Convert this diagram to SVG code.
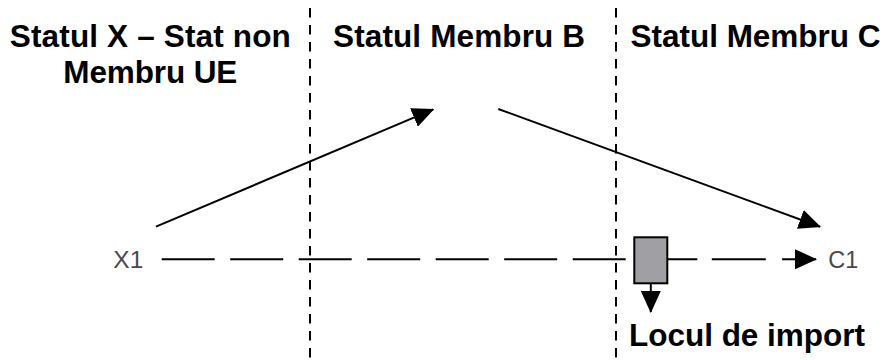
<svg xmlns="http://www.w3.org/2000/svg" width="884" height="360" viewBox="0 0 884 360">
  <style>
    .hdr { font-family: "Liberation Sans", Arial, sans-serif; font-weight: bold; font-size: 31.5px; fill: #000; }
    .lbl { font-family: "Liberation Sans", Arial, sans-serif; font-size: 24px; fill: #4a4a4a; }
    .sep { stroke: #000; stroke-width: 2; stroke-dasharray: 9.5 7.5; fill: none; }
    .flow { stroke: #000; stroke-width: 2; fill: none; }
  </style>
  <defs>
    <marker id="ah" markerUnits="userSpaceOnUse" markerWidth="22" markerHeight="20" viewBox="0 0 22 20" refX="21" refY="10" orient="auto">
      <path d="M0,0 L22,10 L0,20 z" fill="#000"/>
    </marker>
  </defs>
  <rect width="884" height="360" fill="#fff"/>

  <g id="separators">
    <line class="sep" x1="310" y1="8" x2="310" y2="360"/>
    <line class="sep" x1="616" y1="8" x2="616" y2="360"/>
  </g>

  <g id="state-x">
    <text class="hdr" x="150.3" y="46.5" text-anchor="middle" textLength="281" lengthAdjust="spacing">Statul X – Stat non</text>
    <text class="hdr" x="150.3" y="82.5" text-anchor="middle" textLength="174" lengthAdjust="spacing">Membru UE</text>
  </g>
  <g id="state-b">
    <text class="hdr" x="333" y="46.5" textLength="252" lengthAdjust="spacing">Statul Membru B</text>
  </g>
  <g id="state-c">
    <text class="hdr" x="630.5" y="46.5" textLength="250" lengthAdjust="spacing">Statul Membru C</text>
  </g>

  <g id="x1">
    <text class="lbl" x="113.3" y="268.3" textLength="30" lengthAdjust="spacingAndGlyphs">X1</text>
  </g>
  <g id="c1">
    <text class="lbl" x="828.3" y="268.3" textLength="30" lengthAdjust="spacingAndGlyphs">C1</text>
  </g>

  <g id="connectors">
    <line class="flow" x1="156" y1="226.7" x2="433.3" y2="109.3" marker-end="url(#ah)"/>
    <line class="flow" x1="498.3" y1="109" x2="820" y2="226.7" marker-end="url(#ah)"/>
    <line class="flow" x1="161.7" y1="259.3" x2="634.3" y2="259.3" stroke-dasharray="53 15.5"/>
    <line class="flow" x1="667.3" y1="259.3" x2="816" y2="259.3" stroke-dasharray="30 14.5 54 16.3 60" marker-end="url(#ah)"/>
    <line class="flow" x1="650.8" y1="283.3" x2="650.8" y2="312" marker-end="url(#ah)"/>
  </g>

  <g id="locul-de-import">
    <rect x="634.3" y="237.3" width="33" height="46" fill="#a0a0a4" stroke="#000" stroke-width="2"/>
    <text class="hdr" x="629" y="345.7" font-size="30.5" textLength="236" lengthAdjust="spacing">Locul de import</text>
  </g>
</svg>
